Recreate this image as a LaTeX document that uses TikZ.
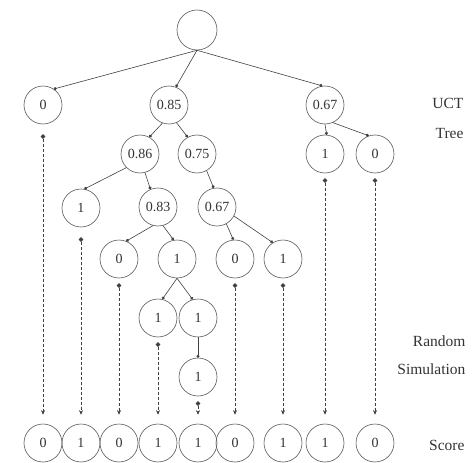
\documentclass[tikz,border=0pt]{standalone}
\usepackage{fontspec}
\setmainfont{Liberation Serif}
\usetikzlibrary{arrows.meta}
\begin{document}
\begin{tikzpicture}[x=1pt,y=-1pt,
  nd/.style={circle,draw=black!65,line width=0.6pt,minimum size=38pt,inner sep=0pt,text=black!80,font=\fontsize{14}{16}\selectfont},
  edge/.style={draw=black!75,line width=0.6pt,-{Circle[length=3pt]}},
  sim/.style={draw=black!75,line width=0.6pt,dash pattern=on 3pt off 2pt,{Circle[length=4.5pt]}-{Stealth[length=4.5pt,width=4pt]},shorten <=5pt,shorten >=9pt},
  lab/.style={anchor=east,text=black!80,font=\fontsize{15.5}{18}\selectfont}]
\useasboundingbox (0,0) rectangle (472,463);
% tree nodes
\node[nd,minimum size=40pt] (root) at (197,30) {};
\node[nd] (a1) at (43,105) {0};
\node[nd] (a2) at (169,105) {0.85};
\node[nd] (a3) at (325,105) {0.67};
\node[nd] (b1) at (140,154) {0.86};
\node[nd] (b2) at (197,154) {0.75};
\node[nd] (b3) at (325,154) {1};
\node[nd] (b4) at (375,154) {0};
\node[nd] (c1) at (81,208) {1};
\node[nd] (c2) at (158,207) {0.83};
\node[nd] (c3) at (217,207) {0.67};
\node[nd] (d1) at (119,259) {0};
\node[nd] (d2) at (177,259) {1};
\node[nd] (d3) at (235,259) {0};
\node[nd] (d4) at (283,259) {1};
\node[nd] (e1) at (158,318) {1};
\node[nd] (e2) at (198,318) {1};
\node[nd] (f1) at (198,377) {1};
% score row
\node[nd] (s1) at (43,443) {0};
\node[nd] (s2) at (81,443) {1};
\node[nd] (s3) at (119,443) {0};
\node[nd] (s4) at (158,443) {1};
\node[nd] (s5) at (198,443) {1};
\node[nd] (s6) at (235,443) {0};
\node[nd] (s7) at (283,443) {1};
\node[nd] (s8) at (325,443) {1};
\node[nd] (s9) at (375,443) {0};
% tree edges
\draw[edge] (root.south) -- (a1.56);
\draw[edge] (root.south) -- (a2.69);
\draw[edge] (root.south) -- (a3.98);
\draw[edge] (a2.-110) -- (b1.61);
\draw[edge] (a2.-67) -- (b2.119);
\draw[edge] (a3.-90) -- (b3.85);
\draw[edge] (a3.-66) -- (b4.109);
\draw[edge] (b1.-135) -- (c1.80);
\draw[edge] (b1.-75) -- (c2.113);
\draw[edge] (b2.-60) -- (c3.100);
\draw[edge] (c2.-105) -- (d1.68);
\draw[edge] (c2.-75) -- (d2.100);
\draw[edge] (c3.-61) -- (d3.95);
\draw[edge] (c3.-28) -- (d4.122);
\draw[edge] (d2.south) -- (e1.77);
\draw[edge] (d2.south) -- (e2.106);
\draw[edge] (e2.south) -- (f1.north);
% simulations
\draw[sim,shorten <=10pt] (a1.south) -- (s1.north);
\draw[sim,shorten <=10pt] (c1.south) -- (s2.north);
\draw[sim] (d1.south) -- (s3.north);
\draw[sim] (e1.south) -- (s4.north);
\draw[sim] (f1.south) -- (s5.north);
\draw[sim] (d3.south) -- (s6.north);
\draw[sim] (d4.south) -- (s7.north);
\draw[sim] (b3.south) -- (s8.north);
\draw[sim] (b4.south) -- (s9.north);
% labels
\node[lab] (lu) at (467,103) {UCT};
\node[lab] (lt) at (467,134) {Tree};
\node[lab] (lr) at (469,341) {Random};
\node[lab] (ls) at (469,369) {Simulation};
\node[lab] (lsc) at (468,445) {Score};
\end{tikzpicture}
\end{document}
